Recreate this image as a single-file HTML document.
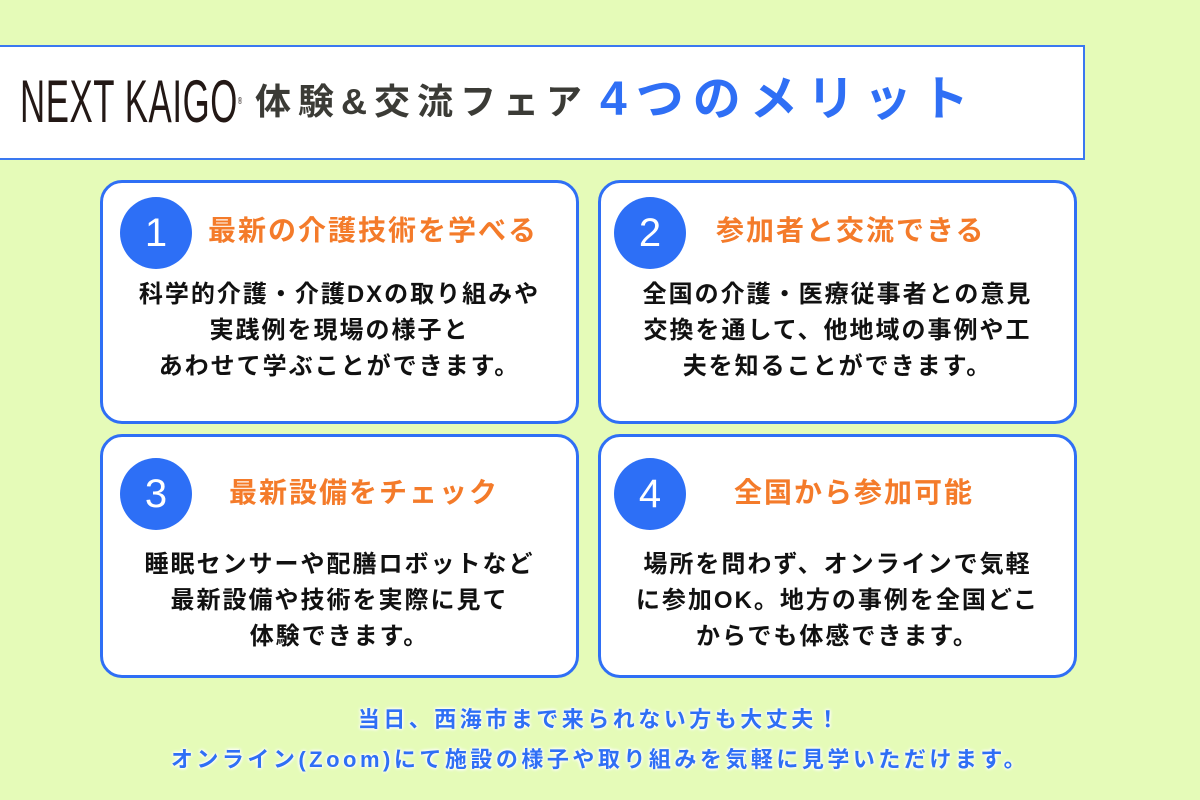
<!DOCTYPE html>
<html><head><meta charset="utf-8"><style>
*{margin:0;padding:0;box-sizing:border-box}
body{width:1200px;height:800px;background:#e5fbb8;position:relative;overflow:hidden;font-family:"Liberation Sans","Noto Sans CJK JP",sans-serif}
.hdr{position:absolute;left:-3px;top:45px;width:1088px;height:115px;background:#fff;border:2px solid #3a78f0}
.nk{position:absolute;left:20px;top:72px;font-family:"Liberation Sans Narrow","Liberation Sans",sans-serif;font-size:60px;color:#231815;transform:scaleX(0.58);transform-origin:left top;letter-spacing:1px;line-height:60px;font-weight:400;white-space:nowrap}
.nk sup{font-size:10px;vertical-align:top}
.t1{position:absolute;left:255px;top:80px;font-size:36px;font-weight:bold;color:#3b3b36;line-height:44px;letter-spacing:7px;white-space:nowrap}
.t2{position:absolute;left:600px;top:72px;font-size:48px;font-weight:bold;color:#2f6ff5;line-height:56px;letter-spacing:9px;white-space:nowrap}
.card{position:absolute;width:479px;height:244px;background:#fff;border:3px solid #2f6ff5;border-radius:22px}
.num{position:absolute;width:72px;height:72px;border-radius:50%;background:#2d6ff6;color:#fff;font-size:40px;text-align:center;line-height:72px}
.tt{position:absolute;top:30px;font-size:28px;font-weight:bold;color:#f47b2a;line-height:36px;white-space:nowrap;letter-spacing:2px}
.bd{position:absolute;left:0;right:0;top:94px;text-align:center;font-size:24px;font-weight:bold;color:#111;line-height:36px;letter-spacing:2px;white-space:nowrap}
.ft{position:absolute;left:0;width:1200px;text-align:center;font-size:22px;font-weight:bold;color:#2f6ff5;line-height:30px;letter-spacing:3.5px;text-shadow:0 0 3px #fff,0 0 3px #fff,0 0 4px #fff}
</style></head><body>
<div class="hdr"></div>
<div class="nk">NEXT KAIGO<sup>®</sup></div>
<div class="t1">体験&amp;交流フェア</div>
<div class="t2">4つのメリット</div>

<div class="card" style="left:100px;top:180px">
<div class="num" style="left:17px;top:14px">1</div>
<div class="tt" style="left:105px">最新の介護技術を学べる</div>
<div class="bd">科学的介護・介護DXの取り組みや<br>実践例を現場の様子と<br>あわせて学ぶことができます。</div>
</div>
<div class="card" style="left:598px;top:180px">
<div class="num" style="left:13px;top:14px">2</div>
<div class="tt" style="left:115px">参加者と交流できる</div>
<div class="bd">全国の介護・医療従事者との意見<br>交換を通して、他地域の事例や工<br>夫を知ることができます。</div>
</div>
<div class="card" style="left:100px;top:434px">
<div class="num" style="left:17px;top:21px">3</div>
<div class="tt" style="left:126px;top:38px">最新設備をチェック</div>
<div class="bd" style="top:110px">睡眠センサーや配膳ロボットなど<br>最新設備や技術を実際に見て<br>体験できます。</div>
</div>
<div class="card" style="left:598px;top:434px">
<div class="num" style="left:13px;top:21px">4</div>
<div class="tt" style="left:133px;top:38px">全国から参加可能</div>
<div class="bd" style="top:110px">場所を問わず、オンラインで気軽<br>に参加OK。地方の事例を全国どこ<br>からでも体感できます。</div>
</div>

<div class="ft" style="top:705px">当日、西海市まで来られない方も大丈夫！</div>
<div class="ft" style="top:745px">オンライン(Zoom)にて施設の様子や取り組みを気軽に見学いただけます。</div>
</body></html>
